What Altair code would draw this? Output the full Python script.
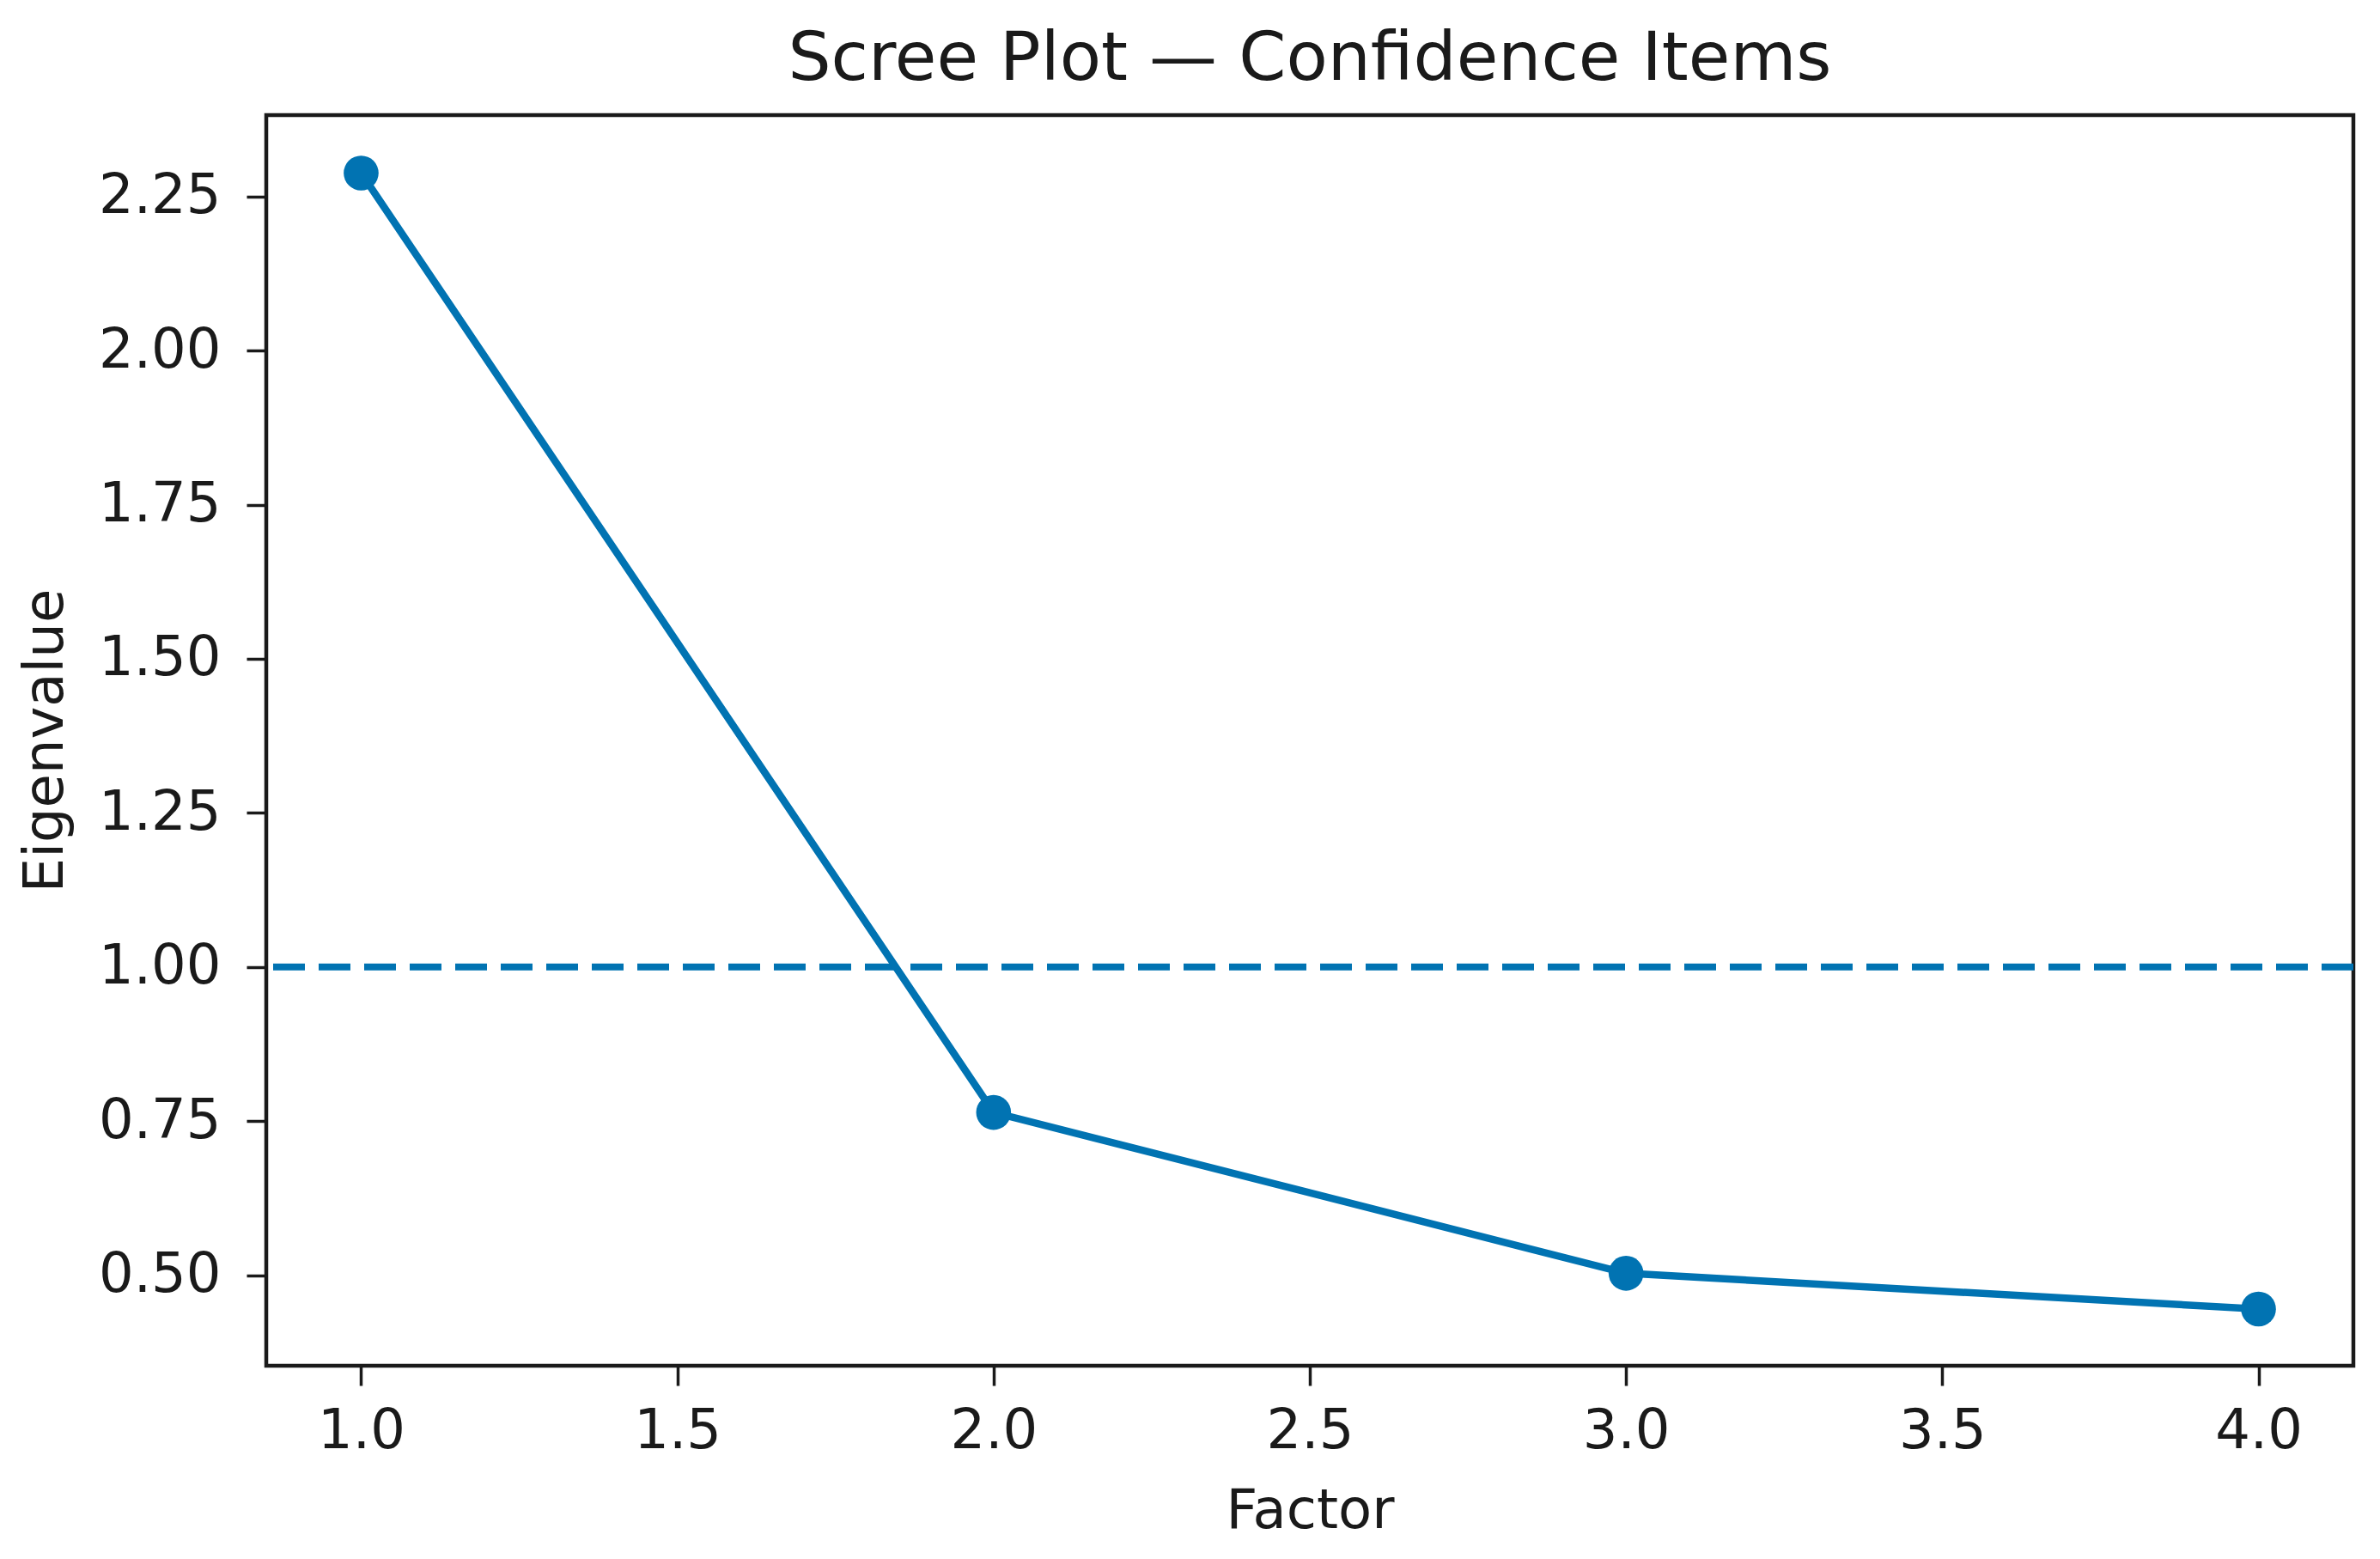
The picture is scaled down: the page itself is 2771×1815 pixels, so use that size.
import altair as alt
import pandas as pd

factors = [1, 2, 3, 4]
eigenvalues = [2.288, 0.764, 0.503, 0.445]
threshold = [1.0]
x_ticks = [1.0, 1.5, 2.0, 2.5, 3.0, 3.5, 4.0]
y_ticks = [0.50, 0.75, 1.00, 1.25, 1.50, 1.75, 2.00, 2.25]

BLUE = "#0173B2"
FONT = "DejaVu Sans"

df = pd.DataFrame({"Factor": factors, "Eigenvalue": eigenvalues})
df_rule = pd.DataFrame({"y": threshold})

x_scale = alt.Scale(domain=[0.85, 4.15], nice=False, zero=False)
y_scale = alt.Scale(domain=[0.353, 2.382], nice=False, zero=False)

x_axis = alt.Axis(
    values=x_ticks, format=".1f", title="Factor", grid=False,
    tickSize=23, tickWidth=3.5, tickColor="#1a1a1a",
    labelPadding=21, labelFontSize=64, labelFont=FONT, labelColor="#1a1a1a",
    titleFontSize=64, titleFont=FONT, titleFontWeight="normal", titleColor="#1a1a1a",
    titleY=188, titleBaseline="alphabetic",
    domain=False,
)
y_axis = alt.Axis(
    values=y_ticks, format=".2f", title="Eigenvalue", grid=False,
    tickSize=23, tickWidth=3.5, tickColor="#1a1a1a",
    labelPadding=30, labelFontSize=64, labelFont=FONT, labelColor="#1a1a1a",
    titleFontSize=64, titleFont=FONT, titleFontWeight="normal", titleColor="#1a1a1a",
    titleX=-238, titleBaseline="alphabetic",
    domain=False,
)

base = alt.Chart(df)

rule = alt.Chart(df_rule).mark_rule(
    color=BLUE, strokeWidth=8, strokeDash=[37, 16]
).encode(y=alt.Y("y:Q", scale=y_scale, axis=y_axis))

line = base.mark_line(color=BLUE, strokeWidth=8.5).encode(
    x=alt.X("Factor:Q", scale=x_scale, axis=x_axis),
    y=alt.Y("Eigenvalue:Q", scale=y_scale, axis=y_axis),
)

points = base.mark_point(filled=True, color=BLUE, size=1650, opacity=1).encode(
    x=alt.X("Factor:Q", scale=x_scale, axis=x_axis),
    y=alt.Y("Eigenvalue:Q", scale=y_scale, axis=y_axis),
)

chart = alt.layer(rule, line, points).properties(
    width=2430,
    height=1456,
    autosize=alt.AutoSizeParams(type="none"),
    padding={"left": 302, "top": 126, "right": 22, "bottom": 214},
    title=alt.TitleParams(
        "Scree Plot — Confidence Items",
        fontSize=79, font=FONT, fontWeight="normal", color="#1a1a1a",
        offset=39, baseline="alphabetic", anchor="middle", dy=77,
    ),
).configure(
    background="white"
).configure_view(
    stroke="#1a1a1a", strokeWidth=4.5
)

chart.save("out.html", embed_options={"renderer": "svg", "actions": False})
